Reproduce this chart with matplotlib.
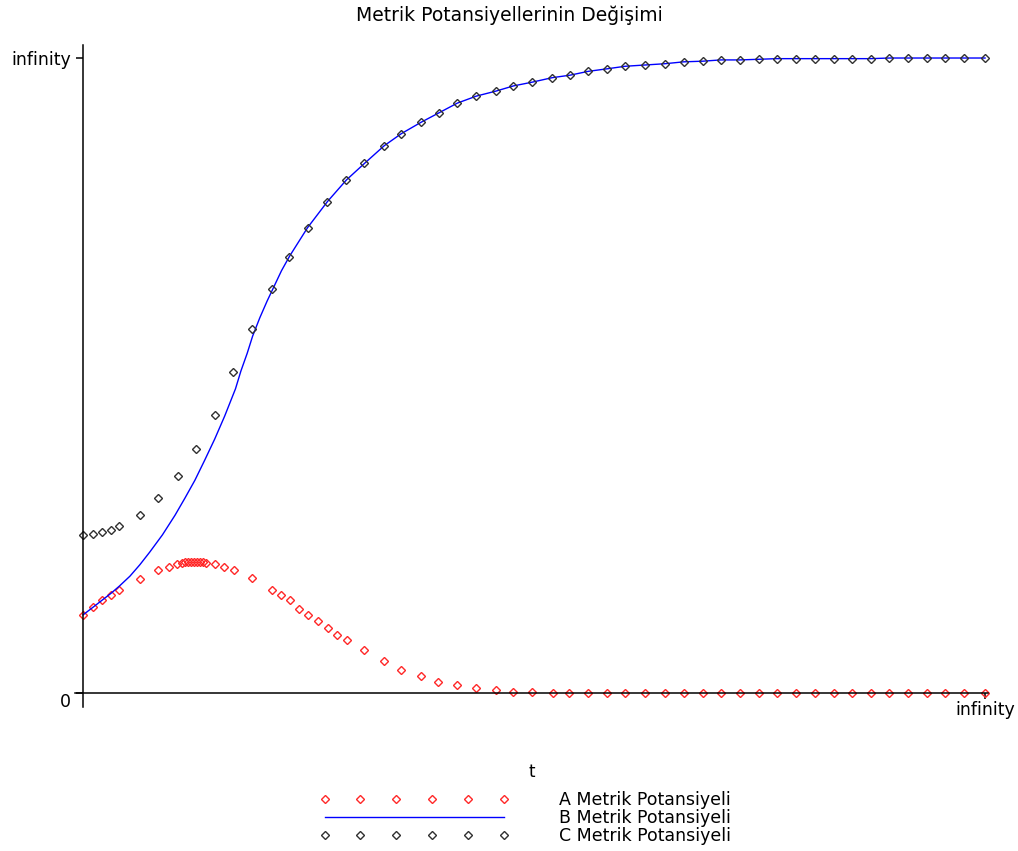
import numpy as np
import matplotlib
matplotlib.use("Agg")
import matplotlib.pyplot as plt

# t ekseni ve potansiyeller, 0..infinity araligi 0..1 olarak olceklenmis
c_t = [0.000, 0.011, 0.021, 0.031, 0.040, 0.063, 0.083, 0.105, 0.125, 0.146,
       0.166, 0.187, 0.210, 0.228, 0.249, 0.271, 0.292, 0.312, 0.334, 0.353,
       0.375, 0.395, 0.415, 0.436, 0.458, 0.477, 0.498, 0.520, 0.540, 0.560,
       0.581, 0.601, 0.623, 0.645, 0.666, 0.687, 0.707, 0.728, 0.749, 0.769,
       0.790, 0.811, 0.832, 0.853, 0.873, 0.894, 0.915, 0.936, 0.956, 0.977,
       1.000]
c_val = [0.249, 0.251, 0.253, 0.256, 0.263, 0.280, 0.307, 0.342, 0.384, 0.438,
         0.506, 0.574, 0.637, 0.687, 0.733, 0.774, 0.808, 0.834, 0.862, 0.881,
         0.899, 0.914, 0.929, 0.940, 0.948, 0.956, 0.962, 0.969, 0.973, 0.979,
         0.983, 0.987, 0.989, 0.991, 0.994, 0.995, 0.997, 0.997, 0.998, 0.999,
         0.999, 0.999, 0.999, 0.999, 0.999, 1.000, 1.000, 1.000, 1.000, 1.000,
         1.000]

a_t = [0.000, 0.011, 0.021, 0.031, 0.040, 0.063, 0.083, 0.095, 0.104,
       0.110, 0.113, 0.116, 0.120, 0.123, 0.126, 0.130, 0.133, 0.136,
       0.146, 0.156, 0.167, 0.187, 0.210, 0.219, 0.229, 0.239, 0.249, 0.261,
       0.272, 0.282, 0.293, 0.312, 0.334, 0.353, 0.375, 0.394, 0.415, 0.436,
       0.458, 0.477, 0.498, 0.521, 0.539, 0.560, 0.581, 0.601, 0.623, 0.645,
       0.666, 0.687, 0.707, 0.728, 0.749, 0.769, 0.790, 0.811, 0.832, 0.853,
       0.873, 0.894, 0.915, 0.936, 0.956, 0.977, 1.000]
a_val = [0.123, 0.135, 0.146, 0.154, 0.163, 0.180, 0.194, 0.198, 0.203,
         0.205, 0.206, 0.206, 0.206, 0.206, 0.206, 0.206, 0.206, 0.205,
         0.203, 0.198, 0.194, 0.181, 0.163, 0.154, 0.146, 0.133, 0.123, 0.113,
         0.102, 0.092, 0.083, 0.067, 0.050, 0.037, 0.027, 0.018, 0.012, 0.008,
         0.004, 0.002, 0.002, 0.0005, 0.0005, 0.0005, 0.0005, 0.0, 0.0, 0.0,
         0.0, 0.0, 0.0, 0.0, 0.0, 0.0, 0.0, 0.0, 0.0, 0.0,
         0.0, 0.0, 0.0, 0.0, 0.0, 0.0, 0.0]

# B egrisinin baslangic kismi, sonrasi C ile cakisiyor
b_head_t = [0.000, 0.011, 0.021, 0.031, 0.040, 0.052, 0.063, 0.074, 0.088, 0.102,
            0.113, 0.124, 0.135, 0.146, 0.157, 0.169, 0.175, 0.182, 0.188, 0.196,
            0.204, 0.211, 0.220, 0.229]
b_head_val = [0.123, 0.135, 0.146, 0.157, 0.168, 0.184, 0.202, 0.222, 0.249, 0.280,
              0.307, 0.335, 0.367, 0.400, 0.436, 0.479, 0.507, 0.535, 0.562, 0.591,
              0.617, 0.638, 0.665, 0.688]
b_t = b_head_t + c_t[14:]
b_val = b_head_val + c_val[14:]

labels = ["A Metrik Potansiyeli", "B Metrik Potansiyeli", "C Metrik Potansiyeli"]

fig = plt.figure(figsize=(10.18, 8.51), dpi=100)
ax = fig.add_axes([0.0737, 0.1692, 0.8969, 0.7779])

ax.plot(a_t, a_val, linestyle="none", marker="D", markersize=4, mfc="none",
        mec="#ff2828", mew=1.0, label=labels[0], clip_on=False)
ax.plot(b_t, b_val, color="#0000ff", lw=1.0, label=labels[1], clip_on=False)
ax.plot(c_t, c_val, linestyle="none", marker="D", markersize=3.6, mfc="none",
        mec="#303030", mew=1.0, label=labels[2], clip_on=False)

ax.set_xlim(-0.00887, 1.00333)
ax.set_ylim(-0.02205, 1.02047)

for s in ["top", "right"]:
    ax.spines[s].set_visible(False)
ax.spines["left"].set_position(("data", 0))
ax.spines["bottom"].set_position(("data", 0))
for s in ["left", "bottom"]:
    ax.spines[s].set_linewidth(1.1)

ax.set_xticks([1])
ax.set_xticklabels(["infinity"])
ax.set_yticks([0, 1])
ax.set_yticklabels(["0", "infinity"])
ax.tick_params(axis="y", direction="out", length=5, width=1.1, labelsize=12.5, pad=3.5)
ax.tick_params(axis="x", direction="out", length=4, width=1.1, labelsize=12.5, pad=1.5)
ax.yaxis.get_major_ticks()[0].label1.set_verticalalignment("top")

ax.set_xlabel("t", fontsize=12)
ax.xaxis.set_label_coords(0.5, -0.0846)

fig.text(0.5, 0.9824, "Metrik Potansiyellerinin Değişimi", ha="center", va="center",
         fontsize=13.5, family="DejaVu Sans")

ax.legend(loc="center", bbox_to_anchor=(0.516, 0.0388), bbox_transform=fig.transFigure,
          frameon=False, fontsize=12.5, numpoints=6, handlelength=10.9, handletextpad=2.9,
          labelspacing=0, borderpad=0)

plt.savefig("out.png", dpi=100)
